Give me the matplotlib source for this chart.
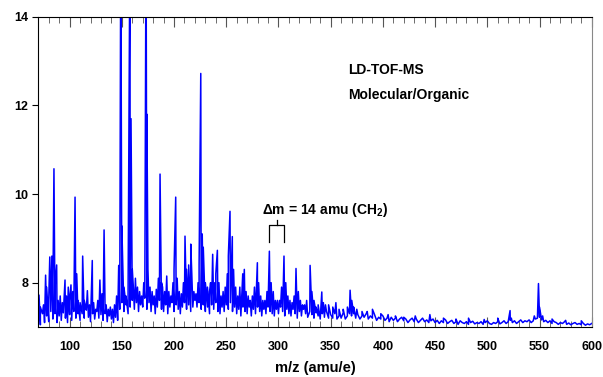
import numpy as np
import matplotlib
matplotlib.use("Agg")
import matplotlib.pyplot as plt
from matplotlib.ticker import MultipleLocator

plt.rcParams['font.family'] = ['Liberation Sans', 'DejaVu Sans']
plt.rcParams['font.weight'] = 'bold'
plt.rcParams['mathtext.fontset'] = 'custom'
plt.rcParams['mathtext.rm'] = 'Liberation Sans:bold'
plt.rcParams['mathtext.it'] = 'Liberation Sans:bold'
plt.rcParams['mathtext.bf'] = 'Liberation Sans:bold'

# noise floor read every 2 amu from 70 to 600
baseline_start, baseline_step = 70, 2
baseline = [
    7.15, 7.05, 7.30, 7.10, 7.25, 7.12, 7.35, 7.18, 7.30, 7.10,
    7.25, 7.15, 7.32, 7.20, 7.10, 7.28, 7.15, 7.35, 7.20, 7.30,
    7.15, 7.30, 7.20, 7.38, 7.22, 7.12, 7.30, 7.18, 7.35, 7.20,
    7.28, 7.15, 7.30, 7.12, 7.25, 7.18, 7.10, 7.22, 7.15, 7.40,
    7.55, 7.35, 7.50, 7.30, 7.45, 7.60, 7.40, 7.55, 7.35, 7.50,
    7.45, 7.65, 7.40, 7.55, 7.35, 7.50, 7.30, 7.45, 7.60, 7.40,
    7.35, 7.50, 7.30, 7.45, 7.55, 7.35, 7.50, 7.40, 7.30, 7.45,
    7.55, 7.40, 7.50, 7.35, 7.45, 7.60, 7.45, 7.55, 7.40, 7.50,
    7.35, 7.45, 7.30, 7.50, 7.40, 7.55, 7.35, 7.30, 7.45, 7.35,
    7.50, 7.40, 7.55, 7.35, 7.45, 7.30, 7.40, 7.25, 7.45, 7.35,
    7.30, 7.45, 7.25, 7.40, 7.30, 7.45, 7.35, 7.25, 7.40, 7.30,
    7.45, 7.35, 7.30, 7.25, 7.40, 7.30, 7.45, 7.35, 7.25, 7.40,
    7.30, 7.25, 7.40, 7.30, 7.20, 7.35, 7.25, 7.40, 7.30, 7.22,
    7.35, 7.28, 7.20, 7.32, 7.25, 7.18, 7.30, 7.22, 7.35, 7.20,
    7.28, 7.20, 7.30, 7.18, 7.25, 7.20, 7.32, 7.18, 7.25, 7.30,
    7.25, 7.30, 7.20, 7.28, 7.18, 7.25, 7.22, 7.30, 7.18, 7.25,
    7.20, 7.28, 7.15, 7.22, 7.18, 7.25, 7.15, 7.20, 7.12, 7.22,
    7.15, 7.20, 7.12, 7.18, 7.22, 7.14, 7.18, 7.10, 7.16, 7.20,
    7.12, 7.18, 7.10, 7.15, 7.20, 7.12, 7.16, 7.10, 7.14, 7.18,
    7.10, 7.15, 7.08, 7.14, 7.10, 7.16, 7.08, 7.12, 7.15, 7.08,
    7.12, 7.06, 7.14, 7.10, 7.08, 7.12, 7.06, 7.10, 7.13, 7.07,
    7.10, 7.08, 7.12, 7.06, 7.10, 7.14, 7.08, 7.06, 7.10, 7.08,
    7.12, 7.07, 7.10, 7.14, 7.08, 7.12, 7.15, 7.10, 7.14, 7.08,
    7.12, 7.16, 7.10, 7.14, 7.12, 7.16, 7.10, 7.14, 7.18, 7.20,
    7.22, 7.16, 7.12, 7.15, 7.10, 7.14, 7.08, 7.12, 7.10, 7.06,
    7.10, 7.08, 7.12, 7.06, 7.09, 7.05, 7.08, 7.10, 7.06, 7.08,
    7.05, 7.08, 7.04, 7.07, 7.05, 7.08,
]

# peak apexes (m/z, signal)
peak_mz = [
    70.7, 72, 75, 77, 78, 80, 81, 83, 84, 85, 86, 87.6, 89, 91, 93, 95.6, 97,
    98.7, 100, 101.3, 103, 105.2, 106.8, 108, 110, 112.5, 114, 115, 117, 119,
    121.7, 123, 125, 127, 129, 131, 133, 135, 137, 139, 141, 143, 145, 147,
    149, 150, 152, 154, 156, 157.8, 158.8, 160, 161, 163, 165, 167, 169, 171,
    172.2, 173.2, 174, 175, 177, 179, 181, 183, 185, 186.6, 188, 189, 191,
    193, 195, 197, 199, 200, 201.6, 203, 205, 207, 209, 210.5, 212, 214, 216,
    217, 219, 221, 223, 224, 225.6, 227, 228, 230, 232, 234, 235, 237, 239,
    240, 241.5, 243, 245, 247, 249, 251, 252, 253.6, 255.8, 257, 259, 261,
    263, 265.8, 267.3, 269, 271, 273, 275, 277, 279.8, 281, 283, 285, 287,
    289, 291.3, 293, 295, 297, 299, 301, 303, 305.3, 307, 309, 311, 313, 315,
    316.8, 319, 321, 323, 325, 327, 330.3, 332, 334, 336, 338, 341.5, 343,
    345, 348, 352, 355, 358, 362, 366, 368.6, 370.2, 372, 375, 380, 385, 390,
    398, 405, 412, 420, 431, 445, 458, 470, 482, 497, 510, 521.8, 523, 545,
    549, 550, 553, 562, 575, 590,
]
peak_int = [
    7.72, 7.45, 7.50, 8.17, 7.90, 7.60, 8.58, 8.60, 7.80, 10.57, 7.90, 8.40,
    7.60, 7.70, 7.55, 8.06, 7.70, 7.90, 7.60, 7.95, 7.80, 9.93, 8.20, 7.60,
    7.55, 8.60, 7.60, 7.50, 7.82, 7.50, 8.50, 7.55, 7.40, 7.60, 8.06, 7.75,
    9.19, 7.50, 7.40, 7.45, 7.40, 7.50, 7.70, 8.39, 16.0, 9.28, 7.90, 7.70,
    7.80, 16.0, 11.70, 8.30, 7.90, 8.10, 7.90, 7.80, 7.70, 8.00, 9.20, 16.0,
    11.80, 8.30, 7.90, 7.80, 7.70, 7.85, 8.10, 10.45, 8.00, 7.90, 7.80, 8.15,
    7.80, 7.70, 8.00, 8.30, 9.93, 8.10, 7.80, 7.75, 8.00, 9.05, 8.30, 8.40,
    8.87, 8.20, 7.80, 7.75, 8.00, 8.40, 12.72, 9.10, 8.80, 8.00, 7.90, 7.80,
    8.00, 8.64, 8.00, 8.20, 8.73, 8.00, 7.70, 7.80, 7.90, 8.20, 8.60, 9.61,
    9.04, 8.30, 7.90, 7.70, 7.90, 8.20, 8.30, 7.80, 7.70, 7.60, 7.70, 7.90,
    8.45, 8.00, 7.70, 7.60, 7.60, 7.80, 8.71, 8.00, 7.80, 7.60, 7.60, 7.60,
    7.90, 8.60, 8.00, 7.70, 7.60, 7.55, 7.70, 8.32, 7.80, 7.60, 7.50, 7.50,
    7.60, 8.39, 7.80, 7.60, 7.45, 7.50, 7.79, 7.55, 7.50, 7.50, 7.45, 7.55,
    7.40, 7.40, 7.45, 7.83, 7.60, 7.45, 7.40, 7.35, 7.35, 7.40, 7.30, 7.28,
    7.25, 7.22, 7.25, 7.28, 7.20, 7.18, 7.20, 7.17, 7.20, 7.37, 7.20, 7.25,
    7.98, 7.45, 7.25, 7.18, 7.15, 7.14,
]

mz_ticks = [100, 150, 200, 250, 300, 350, 400, 450, 500, 550, 600]
signal_ticks = [8, 10, 12, 14]

# bracket over the CH2 spacing
bracket_left, bracket_right = 291.3, 305.3
bracket_low, bracket_top, bracket_knob = 8.91, 9.30, 9.42

baseline_mz = baseline_start + baseline_step * np.arange(len(baseline))
mz = np.concatenate([baseline_mz, peak_mz])
signal = np.concatenate([baseline, peak_int])
order = np.argsort(mz, kind='stable')
mz, signal = mz[order], signal[order]

fig = plt.figure(figsize=(6.03, 3.77), dpi=100)
ax = fig.add_axes([0.0635, 0.1326, 0.9178, 0.8231])
ax.plot(mz, signal, color='#0000ff', lw=1.1)

ax.set_xlim(70, 600)
ax.set_ylim(7, 14)
ax.set_xticks(mz_ticks)
ax.xaxis.set_minor_locator(MultipleLocator(10))
ax.set_yticks(signal_ticks)
ax.tick_params(axis='x', which='both', direction='in', top=True, colors='#555555',
               labelcolor='black', labelsize=9, pad=10)
ax.tick_params(axis='x', which='major', length=7)
ax.tick_params(axis='x', which='minor', length=4)
ax.tick_params(axis='y', which='major', direction='out', length=4, labelsize=9, pad=3)
ax.spines['right'].set_color('#888888')
ax.set_xlabel('m/z (amu/e)', fontsize=10.5, fontweight='bold', labelpad=6)

ax.text(366.6, 12.70, 'LD-TOF-MS', fontsize=10, fontweight='bold')
ax.text(366.6, 12.14, 'Molecular/Organic', fontsize=10, fontweight='bold')
ax.text(284.0, 9.555, r'$\Delta$m = 14 amu (CH$_2$)', fontsize=10, fontweight='bold')

mid = (bracket_left + bracket_right) / 2
ax.plot([bracket_left, bracket_left, bracket_right, bracket_right],
        [bracket_low, bracket_top, bracket_top, bracket_low], color='black', lw=0.9)
ax.plot([mid, mid], [bracket_top, bracket_knob], color='black', lw=0.9)

fig.savefig('out.png', dpi=100)
